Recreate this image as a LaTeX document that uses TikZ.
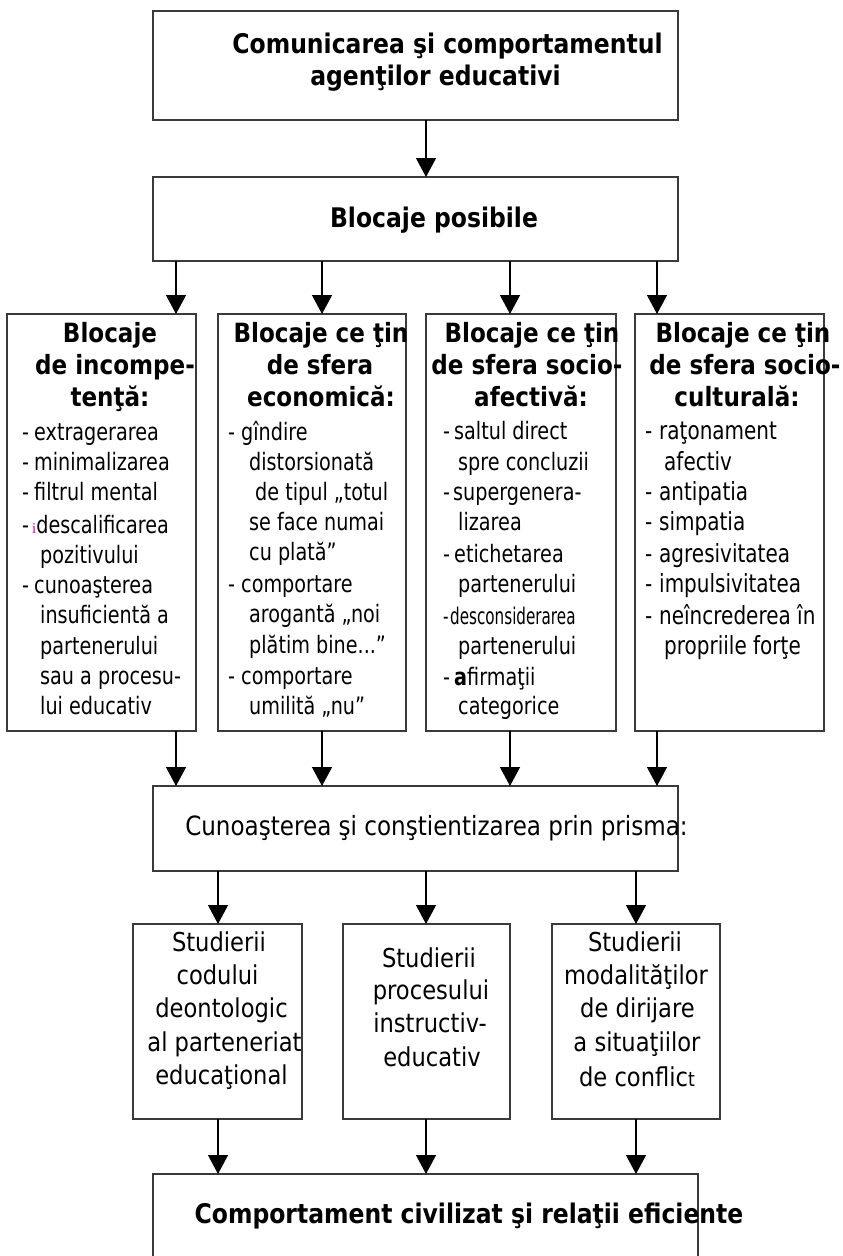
\documentclass[tikz,border=0pt]{standalone}
\usepackage{fontspec}
\setmainfont{DejaVu Sans}[FakeStretch=0.87]
\newfontfamily\bodyfont{DejaVu Sans}[FakeStretch=0.80]
\newfontfamily\narrowfont{DejaVu Sans}[FakeStretch=0.66]
\newfontfamily\serifi{Liberation Serif}
\usetikzlibrary{arrows.meta}
\definecolor{boxline}{HTML}{3A3A3A}
\tikzset{
  boxst/.style={draw=boxline, line width=1.9pt, inner sep=0pt, outer sep=0pt, fill=none},
  arr/.style={black, line width=1.3pt, -{Triangle[width=20pt,length=19pt]}},
  ttl/.style={font=\bfseries\fontsize{27}{32}\selectfont, inner sep=0pt, anchor=base},
  hd/.style={font=\bfseries\fontsize{26.5}{32}\selectfont, inner sep=0pt, anchor=base},
  bd/.style={font=\bodyfont\fontsize{24}{30}\selectfont, inner sep=0pt, anchor=base west},
  bdb/.style={font=\bodyfont\fontsize{25}{30}\selectfont, inner sep=0pt, anchor=base west},
  md/.style={font=\fontsize{26.5}{33}\selectfont, inner sep=0pt, anchor=base},
  st/.style={font=\fontsize{26}{33}\selectfont, inner sep=0pt, anchor=base},
}
\begin{document}
\begin{tikzpicture}[x=1pt,y=-1pt]
\useasboundingbox (0,0) rectangle (843,1256);
\clip (0,0) rectangle (843,1256);
\fill[white] (0,0) rectangle (843,1256);

% boxes
\node[boxst, minimum width=525pt, minimum height=109pt] (top) at (415.5,65.5) {};
\node[boxst, minimum width=525pt, minimum height=84pt] (blk) at (415.5,219) {};
\node[boxst, minimum width=189pt, minimum height=417pt] (c1) at (101.5,522.5) {};
\node[boxst, minimum width=188pt, minimum height=417pt] (c2) at (312,522.5) {};
\node[boxst, minimum width=190pt, minimum height=417pt] (c3) at (521,522.5) {};
\node[boxst, minimum width=189pt, minimum height=417pt] (c4) at (729.5,522.5) {};
\node[boxst, minimum width=525pt, minimum height=85pt] (cun) at (415.5,828.5) {};
\node[boxst, minimum width=169pt, minimum height=195pt] (s1) at (217.5,1021.5) {};
\node[boxst, minimum width=167pt, minimum height=195pt] (s2) at (426.5,1021.5) {};
\node[boxst, minimum width=168pt, minimum height=195pt] (s3) at (636,1021.5) {};
\node[boxst, minimum width=545pt, minimum height=100pt] (fin) at (425.5,1224) {};

% arrow columns
\coordinate (a0) at (426,0);
\coordinate (a1) at (176,0);
\coordinate (a2) at (322,0);
\coordinate (a3) at (510,0);
\coordinate (a4) at (657,0);
\coordinate (b1) at (218,0);
\coordinate (b2) at (426,0);
\coordinate (b3) at (636,0);

\draw[arr] (top.south -| a0) -- (blk.north -| a0);
\draw[arr] (blk.south -| a1) -- (c1.north -| a1);
\draw[arr] (blk.south -| a2) -- (c2.north -| a2);
\draw[arr] (blk.south -| a3) -- (c3.north -| a3);
\draw[arr] (blk.south -| a4) -- (c4.north -| a4);
\draw[arr] (c1.south -| a1) -- (cun.north -| a1);
\draw[arr] (c2.south -| a2) -- (cun.north -| a2);
\draw[arr] (c3.south -| a3) -- (cun.north -| a3);
\draw[arr] (c4.south -| a4) -- (cun.north -| a4);
\draw[arr] (cun.south -| b1) -- (s1.north -| b1);
\draw[arr] (cun.south -| b2) -- (s2.north -| b2);
\draw[arr] (cun.south -| b3) -- (s3.north -| b3);
\draw[arr] (s1.south -| b1) -- (fin.north -| b1);
\draw[arr] (s2.south -| b2) -- (fin.north -| b2);
\draw[arr] (s3.south -| b3) -- (fin.north -| b3);

% titles
\node[ttl] (t1) at (447.5,53) {Comunicarea şi comportamentul};
\node[ttl] (t2) at (435.5,85) {agenţilor educativi};
\node[ttl] (t3) at (434,227) {Blocaje posibile};
\node[md] (t4) at (436.5,835) {Cunoaşterea şi conştientizarea prin prisma:};
\node[ttl] (t5) at (469,1223) {Comportament civilizat şi relaţii eficiente};

% headers
\node[hd] (h11) at (110,342) {Blocaje};
\node[hd] (h12) at (115,374) {de incompe-};
\node[hd] (h13) at (110,406) {tenţă:};
\node[hd] (h21) at (321,342) {Blocaje ce ţin};
\node[hd] (h22) at (320,374) {de sfera};
\node[hd] (h23) at (321,406) {economică:};
\node[hd] (h31) at (532,342) {Blocaje ce ţin};
\node[hd] (h32) at (527,374) {de sfera socio-};
\node[hd] (h33) at (531,406) {afectivă:};
\node[hd] (h41) at (743,342) {Blocaje ce ţin};
\node[hd] (h42) at (745,374) {de sfera socio-};
\node[hd] (h43) at (737,406) {culturală:};

% column 1
\node[bd] (p11) at (22,440) {\makebox[12pt][l]{-}extragerarea};
\node[bd] (p12) at (22,470) {\makebox[12pt][l]{-}minimalizarea};
\node[bd] (p13) at (22,500) {\makebox[12pt][l]{-}filtrul mental};
\node[bd] (p14) at (22,533) {\makebox[10pt][l]{-}{\color{magenta}\serifi\fontsize{15}{15}\selectfont i}descalificarea};
\node[bd] (p15) at (40,563) {pozitivului};
\node[bd] (p16) at (22,593) {\makebox[12pt][l]{-}cunoaşterea};
\node[bd] (p17) at (40,623) {insuficientă a};
\node[bd] (p18) at (40,654) {partenerului};
\node[bd] (p19) at (40,684) {sau a procesu-};
\node[bd] (p110) at (40,714) {lui educativ};

% column 2
\node[bd] (p21) at (228,440) {\makebox[13pt][l]{-}gîndire};
\node[bd] (p22) at (249,470) {distorsionată};
\node[bd] (p23) at (255,500) {de tipul „totul};
\node[bd] (p24) at (249,530) {se face numai};
\node[bd] (p25) at (249,560) {cu plată”};
\node[bd] (p26) at (228,592) {\makebox[13pt][l]{-}comportare};
\node[bd] (p27) at (249,622) {arogantă „noi};
\node[bd] (p28) at (249,653) {plătim bine...”};
\node[bd] (p29) at (228,684) {\makebox[13pt][l]{-}comportare};
\node[bd] (p210) at (249,714) {umilită „nu”};

% column 3
\node[bd] (p31) at (443,439) {\makebox[11pt][l]{-}saltul direct};
\node[bd] (p32) at (458,470) {spre concluzii};
\node[bd] (p33) at (443,500) {\makebox[10pt][l]{-}supergenera-};
\node[bd] (p34) at (458,530) {lizarea};
\node[bd] (p35) at (443,562) {\makebox[11pt][l]{-}etichetarea};
\node[bd] (p36) at (458,592) {partenerului};
\node[bd, font=\narrowfont\fontsize{23}{30}\selectfont] (p37) at (443,624) {\makebox[7pt][l]{-}desconsiderarea};
\node[bd] (p38) at (458,654) {partenerului};
\node[bd] (p39) at (443,685) {\makebox[11pt][l]{-}\textbf{a}firmaţii};
\node[bd] (p310) at (458,714) {categorice};

% column 4
\node[bdb] (p41) at (645,439) {\makebox[14pt][l]{-}raţonament};
\node[bdb] (p42) at (664,470) {afectiv};
\node[bdb] (p43) at (645,500) {\makebox[14pt][l]{-}antipatia};
\node[bdb] (p44) at (645,530) {\makebox[14pt][l]{-}simpatia};
\node[bdb] (p45) at (645,562) {\makebox[14pt][l]{-}agresivitatea};
\node[bdb] (p46) at (645,592) {\makebox[14pt][l]{-}impulsivitatea};
\node[bdb] (p47) at (645,624) {\makebox[14pt][l]{-}neîncrederea în};
\node[bdb] (p48) at (664,654) {propriile forţe};

% study boxes
\node[st] (q11) at (219,951) {Studierii};
\node[st] (q12) at (217.5,984) {codului};
\node[st] (q13) at (221.5,1017) {deontologic};
\node[st] (q14) at (224.5,1051) {al parteneriat};
\node[st] (q15) at (221.5,1084) {educaţional};
\node[st] (q21) at (429,967) {Studierii};
\node[st] (q22) at (431,999) {procesului};
\node[st] (q23) at (430,1032) {instructiv-};
\node[st] (q24) at (432,1066) {educativ};
\node[st] (q31) at (635,951) {Studierii};
\node[st] (q32) at (636,984) {modalităţilor};
\node[st] (q33) at (637.5,1017) {de dirijare};
\node[st] (q34) at (637,1051) {a situaţiilor};
\node[st] (q35) at (637,1086) {de conflic{\fontsize{20}{20}\selectfont t}};
\end{tikzpicture}
\end{document}
